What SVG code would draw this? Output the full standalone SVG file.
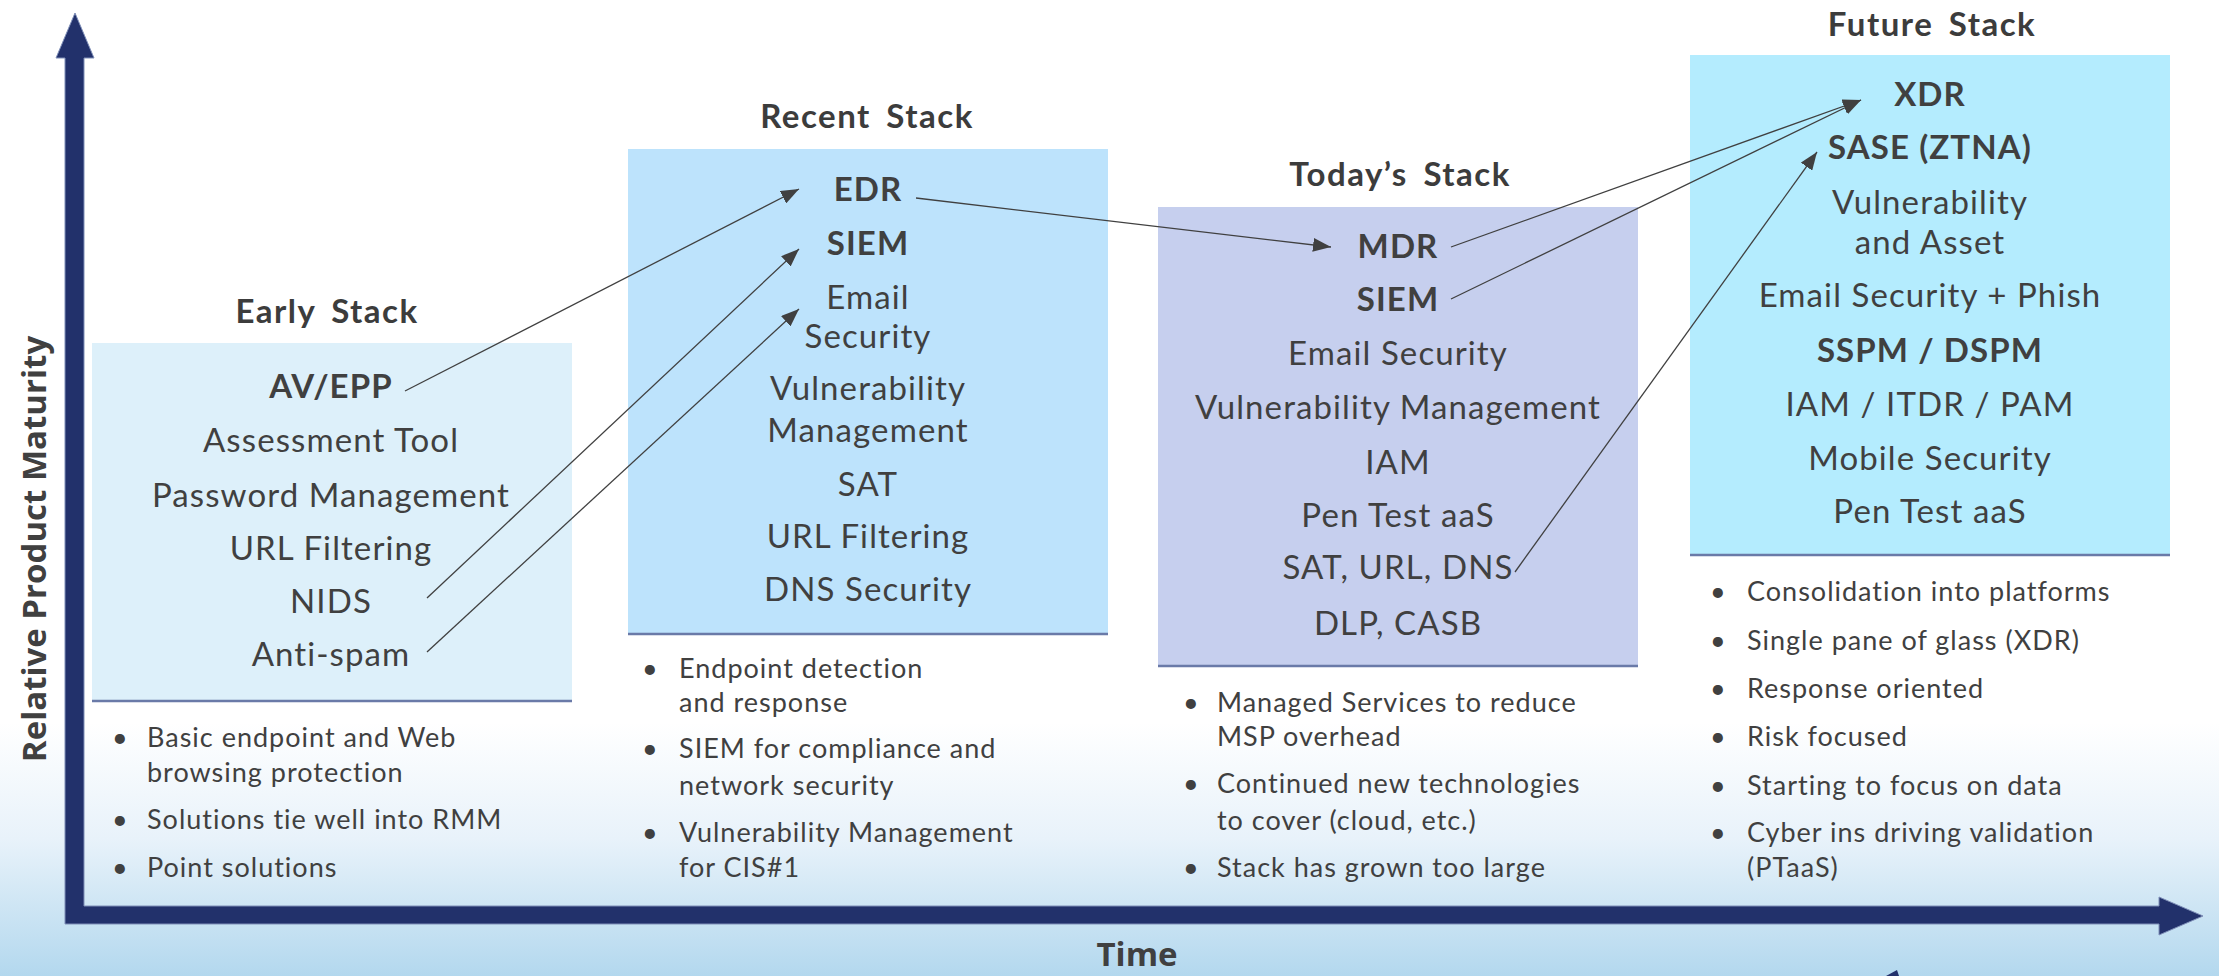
<svg xmlns="http://www.w3.org/2000/svg" width="2219" height="976" viewBox="0 0 2219 976">
  <defs>
    <linearGradient id="bg" x1="0" y1="0" x2="0" y2="976" gradientUnits="userSpaceOnUse">
      <stop offset="0" stop-color="#ffffff"/>
      <stop offset="0.74" stop-color="#ffffff"/>
      <stop offset="0.86" stop-color="#e8f2fa"/>
      <stop offset="1" stop-color="#b3d8ee"/>
    </linearGradient>
    <marker id="arrow" markerWidth="18" markerHeight="14" refX="18" refY="7" orient="auto" markerUnits="userSpaceOnUse">
      <path d="M0,0 L18,7 L0,14 Z" fill="#404040"/>
    </marker>
    <style>
      .title { font-family: Lato, "Liberation Sans", sans-serif; font-weight: bold; font-size: 33px; letter-spacing: 1.5px; word-spacing: 6px; fill: #3c3c3c; text-anchor: middle; }
      .item { font-family: Lato, "Liberation Sans", sans-serif; font-size: 33px; letter-spacing: 1.1px; fill: #404040; text-anchor: middle; }
      .bold { font-weight: bold; }
      .note { font-family: Lato, "Liberation Sans", sans-serif; font-size: 27px; letter-spacing: 1px; fill: #404040; }
      .axis-label { font-family: "Open Sans", "Liberation Sans", sans-serif; font-weight: bold; font-size: 33px; fill: #404040; }
      .box-base { stroke: #6a7aa8; stroke-width: 2.5; }
      .link { stroke: #404040; stroke-width: 1.3; fill: none; marker-end: url(#arrow); }
    </style>
  </defs>

  <rect x="0" y="0" width="2219" height="976" fill="url(#bg)"/>

  <!-- axes -->
  <g id="axes">
    <path d="M65,924 L65,58 L56,58 L75,13 L94,58 L84,58 L84,906 L2159,906 L2159,897 L2203,916 L2159,935 L2159,924 Z" fill="#22316b" stroke="#7f8fb8" stroke-width="1"/>
    <path d="M1886,976 L1897,970 L1899,976 Z" fill="#22316b"/>
    <text class="axis-label" x="0" y="0" transform="translate(46,549) rotate(-90)" text-anchor="middle">Relative Product Maturity</text>
    <text class="axis-label" x="1137" y="966" font-size="32" text-anchor="middle">Time</text>
  </g>

  <!-- Early Stack -->
  <g id="early-stack">
    <text class="title" x="327" y="323">Early Stack</text>
    <rect x="92" y="343" width="480" height="358" fill="#ddf0fa"/>
    <line class="box-base" x1="92" y1="701" x2="572" y2="701"/>
    <text class="item bold" x="331" y="398">AV/EPP</text>
    <text class="item" x="331" y="452">Assessment Tool</text>
    <text class="item" x="331" y="507">Password Management</text>
    <text class="item" x="331" y="560">URL Filtering</text>
    <text class="item" x="331" y="613">NIDS</text>
    <text class="item" x="331" y="666">Anti-spam</text>
    <g class="note">
      <text x="112" y="747">•</text>
      <text x="147" y="747">Basic endpoint and Web</text>
      <text x="147" y="782">browsing protection</text>
      <text x="112" y="829">•</text>
      <text x="147" y="829">Solutions tie well into RMM</text>
      <text x="112" y="877">•</text>
      <text x="147" y="877">Point solutions</text>
    </g>
  </g>

  <!-- Recent Stack -->
  <g id="recent-stack">
    <text class="title" x="867" y="128">Recent Stack</text>
    <rect x="628" y="149" width="480" height="485" fill="#bde3fc"/>
    <line class="box-base" x1="628" y1="634" x2="1108" y2="634"/>
    <text class="item bold" x="868" y="201">EDR</text>
    <text class="item bold" x="868" y="255">SIEM</text>
    <text class="item" x="868" y="309">Email</text>
    <text class="item" x="868" y="348">Security</text>
    <text class="item" x="868" y="400">Vulnerability</text>
    <text class="item" x="868" y="442">Management</text>
    <text class="item" x="868" y="496">SAT</text>
    <text class="item" x="868" y="548">URL Filtering</text>
    <text class="item" x="868" y="601">DNS Security</text>
    <g class="note">
      <text x="642" y="678">•</text>
      <text x="679" y="678">Endpoint detection</text>
      <text x="679" y="712">and response</text>
      <text x="642" y="758">•</text>
      <text x="679" y="758">SIEM for compliance and</text>
      <text x="679" y="795">network security</text>
      <text x="642" y="842">•</text>
      <text x="679" y="842">Vulnerability Management</text>
      <text x="679" y="877">for CIS#1</text>
    </g>
  </g>

  <!-- Today's Stack -->
  <g id="todays-stack">
    <text class="title" x="1400" y="186">Today’s Stack</text>
    <rect x="1158" y="207" width="480" height="459" fill="#c6cfee"/>
    <line class="box-base" x1="1158" y1="666" x2="1638" y2="666"/>
    <text class="item bold" x="1398" y="258">MDR</text>
    <text class="item bold" x="1398" y="311">SIEM</text>
    <text class="item" x="1398" y="365">Email Security</text>
    <text class="item" x="1398" y="419">Vulnerability Management</text>
    <text class="item" x="1398" y="474">IAM</text>
    <text class="item" x="1398" y="527">Pen Test aaS</text>
    <text class="item" x="1398" y="579">SAT, URL, DNS</text>
    <text class="item" x="1398" y="635">DLP, CASB</text>
    <g class="note">
      <text x="1183" y="712">•</text>
      <text x="1217" y="712">Managed Services to reduce</text>
      <text x="1217" y="746">MSP overhead</text>
      <text x="1183" y="793">•</text>
      <text x="1217" y="793">Continued new technologies</text>
      <text x="1217" y="830">to cover (cloud, etc.)</text>
      <text x="1183" y="877">•</text>
      <text x="1217" y="877">Stack has grown too large</text>
    </g>
  </g>

  <!-- Future Stack -->
  <g id="future-stack">
    <text class="title" x="1932" y="36">Future Stack</text>
    <rect x="1690" y="55" width="480" height="500" fill="#b4ecfe"/>
    <line class="box-base" x1="1690" y1="555" x2="2170" y2="555"/>
    <text class="item bold" x="1930" y="106">XDR</text>
    <text class="item bold" x="1930" y="159">SASE (ZTNA)</text>
    <text class="item" x="1930" y="214">Vulnerability</text>
    <text class="item" x="1930" y="254">and Asset</text>
    <text class="item" x="1930" y="307">Email Security + Phish</text>
    <text class="item bold" x="1930" y="362">SSPM / DSPM</text>
    <text class="item" x="1930" y="416">IAM / ITDR / PAM</text>
    <text class="item" x="1930" y="470">Mobile Security</text>
    <text class="item" x="1930" y="523">Pen Test aaS</text>
    <g class="note">
      <text x="1710" y="601">•</text>
      <text x="1747" y="601">Consolidation into platforms</text>
      <text x="1710" y="650">•</text>
      <text x="1747" y="650">Single pane of glass (XDR)</text>
      <text x="1710" y="698">•</text>
      <text x="1747" y="698">Response oriented</text>
      <text x="1710" y="746">•</text>
      <text x="1747" y="746">Risk focused</text>
      <text x="1710" y="795">•</text>
      <text x="1747" y="795">Starting to focus on data</text>
      <text x="1710" y="842">•</text>
      <text x="1747" y="842">Cyber ins driving validation</text>
      <text x="1747" y="877">(PTaaS)</text>
    </g>
  </g>

  <!-- connectors -->
  <g id="connectors">
    <line class="link" x1="405" y1="391" x2="799" y2="189"/>
    <line class="link" x1="427" y1="598" x2="799" y2="249"/>
    <line class="link" x1="427" y1="652" x2="799" y2="309"/>
    <line class="link" x1="916" y1="198" x2="1331" y2="247"/>
    <line class="link" x1="1451" y1="247" x2="1861" y2="100"/>
    <line class="link" x1="1451" y1="299" x2="1861" y2="100"/>
    <line class="link" x1="1515" y1="572" x2="1817" y2="152"/>
  </g>
</svg>
